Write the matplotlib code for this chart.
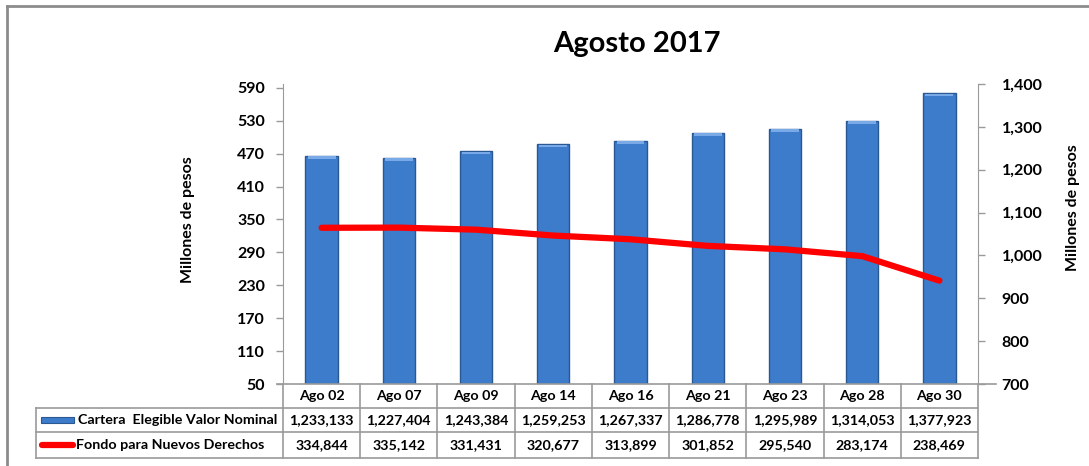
import matplotlib

matplotlib.use("Agg")
import matplotlib.pyplot as plt  # noqa: E402
import numpy as np  # noqa: E402
from matplotlib.lines import Line2D  # noqa: E402
from matplotlib.patches import Rectangle  # noqa: E402
from matplotlib.ticker import FuncFormatter  # noqa: E402

plt.rcParams["font.family"] = ["Lato", "DejaVu Sans"]

fechas = ["Ago 02", "Ago 07", "Ago 09", "Ago 14", "Ago 16",
          "Ago 21", "Ago 23", "Ago 28", "Ago 30"]
cartera = [1233133, 1227404, 1243384, 1259253, 1267337,
           1286778, 1295989, 1314053, 1377923]
fondo = [334844, 335142, 331431, 320677, 313899,
         301852, 295540, 283174, 238469]
serie_cartera = "Cartera  Elegible Valor Nominal"
serie_fondo = "Fondo para Nuevos Derechos"

W, H = 1089, 466
fig = plt.figure(figsize=(W / 100, H / 100), dpi=100)

def fy(py):
    return 1 - py / H

def fx(px):
    return px / W

x_l, x_r, y_t, y_b = 283, 978, 84, 384
ax = fig.add_axes([fx(x_l), fy(y_b), fx(x_r - x_l), fy(y_t) - fy(y_b)])
ax2 = ax.twinx()

x = np.arange(len(fechas))
grey = "#9a9a9a"
bar_c, bar_e = "#3d7bcb", "#2a5893"

# bars on right axis (millones)
cart_m = np.array(cartera) / 1000
ax2.bar(x, cart_m - 700, bottom=700, width=0.42, color=bar_c,
        edgecolor=bar_e, lw=1.0, zorder=2)
# light top bevel
for xi, v in zip(x, cart_m):
    ax2.add_patch(Rectangle((xi - 0.18, v - 7), 0.36, 6, color="#79a9e6",
                            lw=0, zorder=3))
ax2.set_ylim(700, 1400)
ax2.set_yticks(np.arange(700, 1401, 100))
ax2.yaxis.set_major_formatter(FuncFormatter(lambda v, p: f"{v:,.0f}"))

# line on left axis
fondo_m = np.array(fondo) / 1000
ax.plot(x, fondo_m, color="#ff0000", lw=4.5, solid_capstyle="round",
        solid_joinstyle="round", zorder=5)
ax.set_zorder(ax2.get_zorder() + 1)
ax.patch.set_visible(False)
ax.set_ylim(50, 597)
ax.set_yticks(np.arange(50, 591, 60))
ax.set_xlim(-0.5, len(fechas) - 0.5)
ax.set_xticks([])

for a in (ax, ax2):
    for s in a.spines.values():
        s.set_visible(False)
    a.tick_params(axis="y", length=5, width=1, color=grey, labelsize=11.5,
                  pad=8)
    for t in a.get_yticklabels():
        t.set_fontweight("bold")
ax.spines["left"].set_visible(True)
ax.spines["left"].set_color(grey)
ax2.spines["right"].set_visible(True)
ax2.spines["right"].set_color(grey)
ax2.tick_params(axis="y", pad=12)

ax.set_ylabel("Millones de pesos", fontsize=11.5, fontweight="bold")
ax.yaxis.set_label_coords(-0.127, 0.547)
ax2.set_ylabel("Millones de pesos", fontsize=11.5, fontweight="bold")
ax2.yaxis.set_label_coords(1.127, 0.587)

fig.text(fx(637), fy(44), "Agosto 2017", fontsize=21, fontweight="bold",
         ha="center", va="center")

# data table
col_w = (x_r - x_l) / len(fechas)
rows = [384, 408, 432, 458]
lab_l = 36
tfs = 10.3

def hline(px0, px1, py):
    fig.add_artist(Line2D([fx(px0), fx(px1)], [fy(py), fy(py)], color=grey,
                          lw=1.2))

def vline(px, py0, py1):
    fig.add_artist(Line2D([fx(px), fx(px)], [fy(py0), fy(py1)], color=grey,
                          lw=1.2))

hline(x_l - 6, x_r + 18, rows[0])
for r in rows[1:]:
    hline(lab_l, x_r, r)
for i in range(len(fechas) + 1):
    vline(x_l + i * col_w, rows[0], rows[3])
vline(lab_l, rows[1], rows[3])

for i, f in enumerate(fechas):
    cx = x_l + (i + 0.5) * col_w
    fig.text(fx(cx), fy((rows[0] + rows[1]) / 2), f, ha="center", va="center",
             fontsize=tfs, fontweight="bold")
    fig.text(fx(cx), fy((rows[1] + rows[2]) / 2), f"{cartera[i]:,}",
             ha="center", va="center", fontsize=tfs, fontweight="bold")
    fig.text(fx(cx), fy((rows[2] + rows[3]) / 2), f"{fondo[i]:,}",
             ha="center", va="center", fontsize=tfs, fontweight="bold")

# legend keys
ky1 = (rows[1] + rows[2]) / 2
fig.add_artist(Rectangle((fx(41), fy(ky1 + 3)), fx(33), fy(0) - fy(6),
                         facecolor=bar_c, edgecolor=bar_e, lw=0.8))
fig.text(fx(78), fy(ky1), serie_cartera, ha="left", va="center",
         fontsize=tfs, fontweight="bold")
ky2 = (rows[2] + rows[3]) / 2
fig.add_artist(Line2D([fx(42), fx(73)], [fy(ky2), fy(ky2)], color="#ff0000",
                      lw=4.5, solid_capstyle="round"))
fig.text(fx(76), fy(ky2), serie_fondo, ha="left", va="center",
         fontsize=tfs, fontweight="bold")

# outer frame
fig.add_artist(Line2D([fx(7), fx(W)], [fy(6), fy(6)], color="#8c8c8c", lw=2))
fig.add_artist(Line2D([fx(7), fx(7)], [fy(6), fy(H)], color="#8c8c8c", lw=2))

fig.savefig("out.png", dpi=100)
